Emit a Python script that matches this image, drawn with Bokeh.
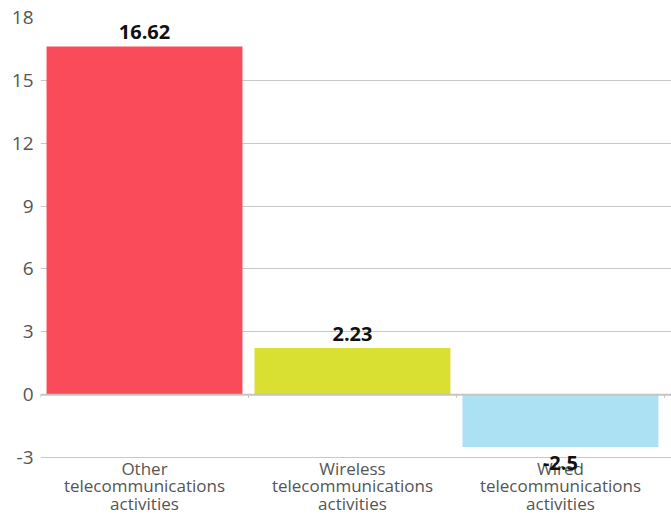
from bokeh.plotting import figure
from bokeh.models import ColumnDataSource, FixedTicker, Label, Span, Range1d
from bokeh.core.properties import value
from bokeh.embed import file_html
from bokeh.resources import INLINE

categories = ["Other\ntelecommunications\nactivities",
              "Wireless\ntelecommunications\nactivities",
              "Wired\ntelecommunications\nactivities"]
values = [16.62, 2.23, -2.5]
labels = ["16.62", "2.23", "-2.5"]
colors = ["#FA4B5A", "#D9E031", "#ACE1F3"]
y_ticks = [-3, 0, 3, 6, 9, 12, 15, 18]

FONT = "Open Sans"
n = len(categories)
xs = list(range(n))

p = figure(x_range=Range1d(-0.5, n - 0.5 + 0.034), y_range=(-5.72, 18),
           width=671, height=514,
           output_backend="svg", toolbar_location=None,
           min_border_left=40, min_border_right=0, min_border_top=17,
           min_border_bottom=0)
p.outline_line_color = None
p.background_fill_color = "white"
p.xaxis.visible = False

src = ColumnDataSource(dict(x=xs, val=values, color=colors))
p.vbar(x="x", top="val", bottom=0, width=0.942, fill_color="color",
       line_color=None, source=src)

# zero line
p.add_layout(Span(location=0, dimension="width", line_color="#C4C4C4", line_width=2))

# small ticks below the zero line at category boundaries
tick_src = ColumnDataSource(dict(x=[i - 0.5 for i in range(n + 1)]))
p.segment(x0="x", x1="x", y0=0, y1=-0.15, source=tick_src, line_color="#C4C4C4", line_width=1)

# category labels below the lowest grid line
cat_src = ColumnDataSource(dict(x=xs, text=categories, y=[y_ticks[0]] * n))
p.text(x="x", y="y", text="text", source=cat_src, text_align="center",
       text_baseline="top", y_offset=-1, text_font=value(FONT),
       text_font_size="17px", text_color="#555555", text_line_height=0.78)

# value labels
for i, (v, t) in enumerate(zip(values, labels)):
    p.add_layout(Label(x=xs[i], y=v, text=t, text_align="center",
                       text_baseline="bottom" if v >= 0 else "top",
                       y_offset=7 if v >= 0 else -9,
                       text_font=FONT, text_font_style="bold",
                       text_font_size="20px", text_color="#111111"))

p.yaxis.ticker = FixedTicker(ticks=y_ticks)
p.yaxis.major_label_overrides = {t: str(t) for t in y_ticks}
p.yaxis.axis_line_color = None
p.yaxis.major_tick_line_color = None
p.yaxis.major_tick_out = 0
p.yaxis.minor_tick_line_color = None
p.yaxis.major_label_text_font = FONT
p.yaxis.major_label_text_font_size = "19px"
p.yaxis.major_label_text_color = "#555555"
p.yaxis.major_label_standoff = 7

p.xgrid.grid_line_color = None
p.ygrid.grid_line_color = "#C8C8C8"
p.ygrid.grid_line_width = 1

open("out.html", "w").write(file_html(p, INLINE))
